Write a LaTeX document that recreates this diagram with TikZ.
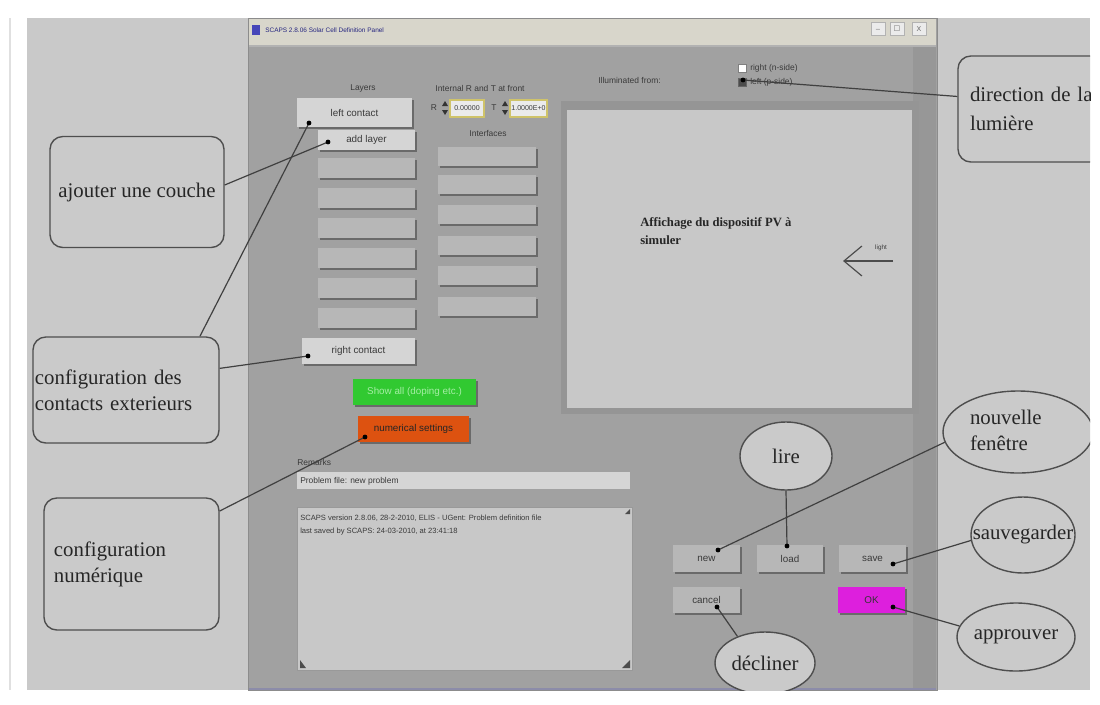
\documentclass[tikz,border=0pt]{standalone}
\usepackage{fontspec}
\setmainfont{Liberation Serif}
\newfontfamily\uisans{Liberation Sans}
\newfontfamily\symfont{DejaVu Sans}
\usetikzlibrary{shapes.geometric,fit,shadows,arrows.meta}

\definecolor{outerbg}{HTML}{C9C9C9}
\definecolor{winbody}{HTML}{A1A1A1}
\definecolor{titlebar}{HTML}{D8D6CB}
\definecolor{btnlight}{HTML}{D5D5D5}
\definecolor{btnmid}{HTML}{B7B7B7}
\definecolor{btnshadow}{HTML}{6A6A6A}
\definecolor{panelframe}{HTML}{959595}
\definecolor{panelface}{HTML}{C8C8C8}
\definecolor{noteline}{HTML}{4E4E4E}
\definecolor{notefill}{HTML}{CACACA}
\definecolor{uitext}{HTML}{3A3A3A}
\definecolor{greenbtn}{HTML}{31C931}
\definecolor{greentext}{HTML}{A5EEA5}
\definecolor{orangebtn}{HTML}{DD5210}
\definecolor{magentabtn}{HTML}{DD1FDD}
\definecolor{spinyellow}{HTML}{CFC36A}

\tikzset{
  sz/.style 2 args={minimum width=#1*0.25mm, minimum height=#2*0.25mm},
  ui/.style={font=\uisans\fontsize{6}{7}\selectfont, text=uitext, inner sep=0pt},
  uibox/.style={rectangle, inner sep=0pt, font=\uisans\fontsize{7}{8}\selectfont, text=uitext,
    drop shadow={shadow xshift=0.4mm, shadow yshift=-0.4mm, fill=btnshadow, opacity=1}},
  lightbtn/.style={uibox, fill=btnlight},
  midbtn/.style={uibox, fill=btnmid},
  spinfield/.style={rectangle, inner sep=0pt, fill=black!8, draw=spinyellow, line width=0.3mm,
    font=\uisans\fontsize{5}{6}\selectfont, text=uitext},
  notebox/.style={rectangle, draw=noteline, line width=0.35mm, fill=notefill, rounded corners=3.2mm,
    inner ysep=0pt, font=\fontsize{14.8}{18.5}\selectfont, text=black!85},
  noteoval/.style={ellipse, draw=noteline, line width=0.35mm, fill=notefill, inner sep=0pt,
    font=\fontsize{14.8}{18.5}\selectfont, text=black!85},
  leader/.style={draw=black!75, line width=0.3mm},
}

\begin{document}
\begin{tikzpicture}[x=0.25mm,y=-0.25mm]
\useasboundingbox (0,0) rectangle (1100,704);
\fill[white] (0,0) rectangle (1100,704);
\draw[black!12, line width=0.3mm] (10,18) -- (10,690);
\fill[outerbg] (27,18) rectangle (1090,690);

% ---------- SCAPS window ----------
\fill[winbody] (248,18) rectangle (937,690);
\draw[black!45, line width=0.2mm] (248,18) rectangle (937,690);
\fill[titlebar] (249,19) rectangle (936,45);
\fill[black!30] (249,45) rectangle (936,47);
\fill[blue!45!gray] (252,25) rectangle (260,35);
\node[ui, anchor=west, font=\uisans\fontsize{4.6}{5}\selectfont, text=black!50!blue!70!gray] (wTitle) at (265,30)
  {SCAPS 2.8.06 Solar Cell Definition Panel};
\node[draw=black!30, fill=black!8, minimum width=3.5mm, minimum height=3.2mm, inner sep=0pt,
  font=\uisans\fontsize{5}{5}\selectfont, text=black!60] (wMin) at (878,29) {\_};
\node[draw=black!30, fill=black!8, minimum width=3.5mm, minimum height=3.2mm, inner sep=0pt,
  font=\symfont\fontsize{5}{5}\selectfont, text=black!60] (wMax) at (897,29) {□};
\node[draw=black!30, fill=black!8, minimum width=3.5mm, minimum height=3.2mm, inner sep=0pt,
  font=\uisans\fontsize{5}{5}\selectfont, text=black!60] (wClose) at (919,29) {X};
\fill[black!6!winbody] (913,47) rectangle (936,690);
\fill[blue!25!black!45] (249,688) rectangle (936,690);

% labels of the layer column
\node[ui] (lblLayers) at (363,88) {Layers};
\node[ui] (lblRT) at (480,88) {Internal R and T at front};
\node[ui] (lblIf) at (488,133) {Interfaces};
\node[ui, anchor=west] (lblIllum) at (598,80) {Illuminated from:};

% spin boxes for R and T
\node[ui] (lblR) at (434,108) {R};
\fill[black!80] (442,106) -- (448,106) -- (445,101) -- cycle;
\fill[black!80] (442,110) -- (448,110) -- (445,115) -- cycle;
\node[spinfield, sz={34}{17}] (fieldR) at (467,108.5) {0.00000};
\node[ui] (lblT) at (494,108) {T};
\fill[black!80] (502,106) -- (508,106) -- (505,101) -- cycle;
\fill[black!80] (502,110) -- (508,110) -- (505,115) -- cycle;
\node[spinfield, sz={37}{17}] (fieldT) at (528.5,108.5) {1.0000E+0};

% illumination side
\node[draw=black!50, fill=white, minimum size=2mm, inner sep=0pt] (chkN) at (742,68) {};
\node[draw=black!60, fill=black!70, minimum size=2mm, inner sep=0pt] (chkP) at (742,82) {};
\node[ui, anchor=west] (lblN) at (750,68) {right (n-side)};
\node[ui, anchor=west] (lblP) at (750,82) {left (p-side)};

% contacts and layers
\node[lightbtn, sz={115}{29}] (btnLeft) at (354.5,112.5) {left contact};
\node[lightbtn, sz={97}{20}] (btnAdd) at (366.5,140) {add layer};
\foreach \yt [count=\k] in {168,198,228,258,288,318}
  \node[midbtn, sz={97}{20}] (layer\k) at (366.5,\yt) {};
\foreach \yt [count=\k] in {156.5,184.5,214.5,245.5,275.5,306.5}
  \node[midbtn, sz={98}{19}] (iface\k) at (487,\yt) {};
\node[lightbtn, sz={113}{26}] (btnRight) at (358.5,351) {right contact};
\node[uibox, fill=greenbtn, text=greentext, sz={123}{26}] (btnShow) at (414.5,392) {Show all (doping etc.)};
\node[uibox, fill=orangebtn, text=black!85, sz={111}{26}] (btnNum) at (413.5,429) {numerical settings};

% device display
\fill[panelframe] (561,101) rectangle (919,414);
\node[fill=panelface, inner sep=0pt, sz={345}{298}] (display) at (739.5,259) {};
\node[anchor=west, align=left, font=\bfseries\fontsize{9}{12.8}\selectfont, text=black!85, inner sep=0pt]
  (dispText) at (640,231) {Affichage du dispositif PV à\\simuler};
\coordinate (lightTail) at (893,261);
\coordinate (lightTip) at (843,261);
\draw[black!70, line width=0.3mm, -{Straight Barb[length=4.5mm,width=7.5mm]}] (lightTail) -- (lightTip);
\node[ui, font=\uisans\fontsize{4.5}{5}\selectfont] (lblLight) at (881,248) {light};

% remarks
\node[ui, anchor=west] (lblRemarks) at (297,462) {Remarks};
\node[fill=btnlight, inner sep=0pt, sz={333}{17}] (fieldProb) at (463.5,480.5) {};
\node[ui, anchor=west] (txtProb) at (300,481) {Problem file: new problem};
\node[fill=panelface, draw=black!40, inner sep=0pt, sz={335}{163}] (txtArea) at (464.5,588.5) {};
\node[ui, anchor=west, font=\uisans\fontsize{5.4}{6.5}\selectfont] (txtLine1) at (300,518)
  {SCAPS version 2.8.06, 28-2-2010, ELIS - UGent: Problem definition file};
\node[ui, anchor=west, font=\uisans\fontsize{5.4}{6.5}\selectfont] (txtLine2) at (300,532)
  {last saved by SCAPS: 24-03-2010, at 23:41:18};
\fill[black!70] (625,514) -- (630,514) -- (630,509) -- cycle;
\fill[black!70] (622,668) -- (630,668) -- (630,660) -- cycle;
\fill[black!70] (300,660) -- (300,668) -- (306,668) -- cycle;

% action buttons
\node[midbtn, sz={67}{27}] (btnNew) at (706.5,558.5) {new};
\node[midbtn, sz={66}{27}] (btnLoad) at (790,558.5) {load};
\node[midbtn, sz={67}{27}] (btnSave) at (872.5,558.5) {save};
\node[midbtn, sz={67}{26}] (btnCancel) at (706.5,600) {cancel};
\node[uibox, fill=magentabtn, text=black!80, sz={67}{26}] (btnOK) at (871.5,600) {OK};

% ---------- annotations ----------
\coordinate (dLeft) at (309,123);
\coordinate (dAdd) at (328,142);
\coordinate (dRight) at (308,356);
\coordinate (dNum) at (365,437);
\coordinate (dLight) at (743,80);
\coordinate (dNew) at (718,550);
\coordinate (dLoad) at (787,546);
\coordinate (dSave) at (893,564);
\coordinate (dOK) at (893,607);
\coordinate (dCancel) at (717,607);

\begin{scope}
\clip (27,18) rectangle (1090,690);
\node[notebox, minimum width=43.5mm, minimum height=27.75mm, inner xsep=0.4mm]
  (cAdd) at (137,192) {ajouter une couche};
\node[notebox, minimum width=46.5mm, minimum height=26.5mm, inner xsep=0.5mm, text width=45.5mm, align=left]
  (cCont) at (126,390) {configuration des\\contacts exterieurs};
\node[notebox, minimum width=43.75mm, minimum height=33mm, inner xsep=2.5mm, text width=38.75mm, align=left]
  (cNum) at (131.5,564) {configuration\\numérique};
\node[notebox, minimum width=39.25mm, minimum height=26.5mm, inner xsep=3mm, text width=33.25mm, align=left,
  font=\fontsize{14.8}{20.6}\selectfont]
  (cDir) at (1036.5,109) {direction de la\\lumière};

\node[noteoval, minimum width=37.5mm, minimum height=20.5mm] (eNew) at (1018,432)
  {\makebox[0pt][l]{\hspace*{-12mm}\begin{tabular}{@{}l@{}}nouvelle\\fenêtre\end{tabular}}};
\node[noteoval, minimum width=23mm, minimum height=17mm] (eLire) at (786,456) {\makebox[0pt][c]{lire}};
\node[noteoval, minimum width=26mm, minimum height=19mm] (eSave) at (1023,535) {\makebox[0pt][c]{sauvegarder}};
\node[noteoval, minimum width=29.5mm, minimum height=17mm] (eOK) at (1016,637) {\makebox[0pt][c]{approuver}};
\node[noteoval, minimum width=25mm, minimum height=15.5mm] (eDec) at (765,663) {\makebox[0pt][c]{décliner}};

\draw[leader] (cAdd.east |- 0,185) -- (dAdd);
\draw[leader] (cCont.36) -- (dLeft);
\draw[leader] (cCont.13) -- (dRight);
\draw[leader] (cNum.31) -- (dNum);
\draw[leader] (cDir.171) -- (dLight);
\draw[leader] (eNew.188) -- (dNew);
\draw[leader] (eLire.south) -- (dLoad);
\draw[leader] (eSave.186) -- (dSave);
\draw[leader] (eOK.169) -- (dOK);
\draw[leader] (eDec.136) -- (dCancel);
\end{scope}

\foreach \d in {dLeft,dAdd,dRight,dNum,dLight,dNew,dLoad,dSave,dOK,dCancel}
  \fill[black] (\d) circle[radius=0.6mm];
\end{tikzpicture}
\end{document}
